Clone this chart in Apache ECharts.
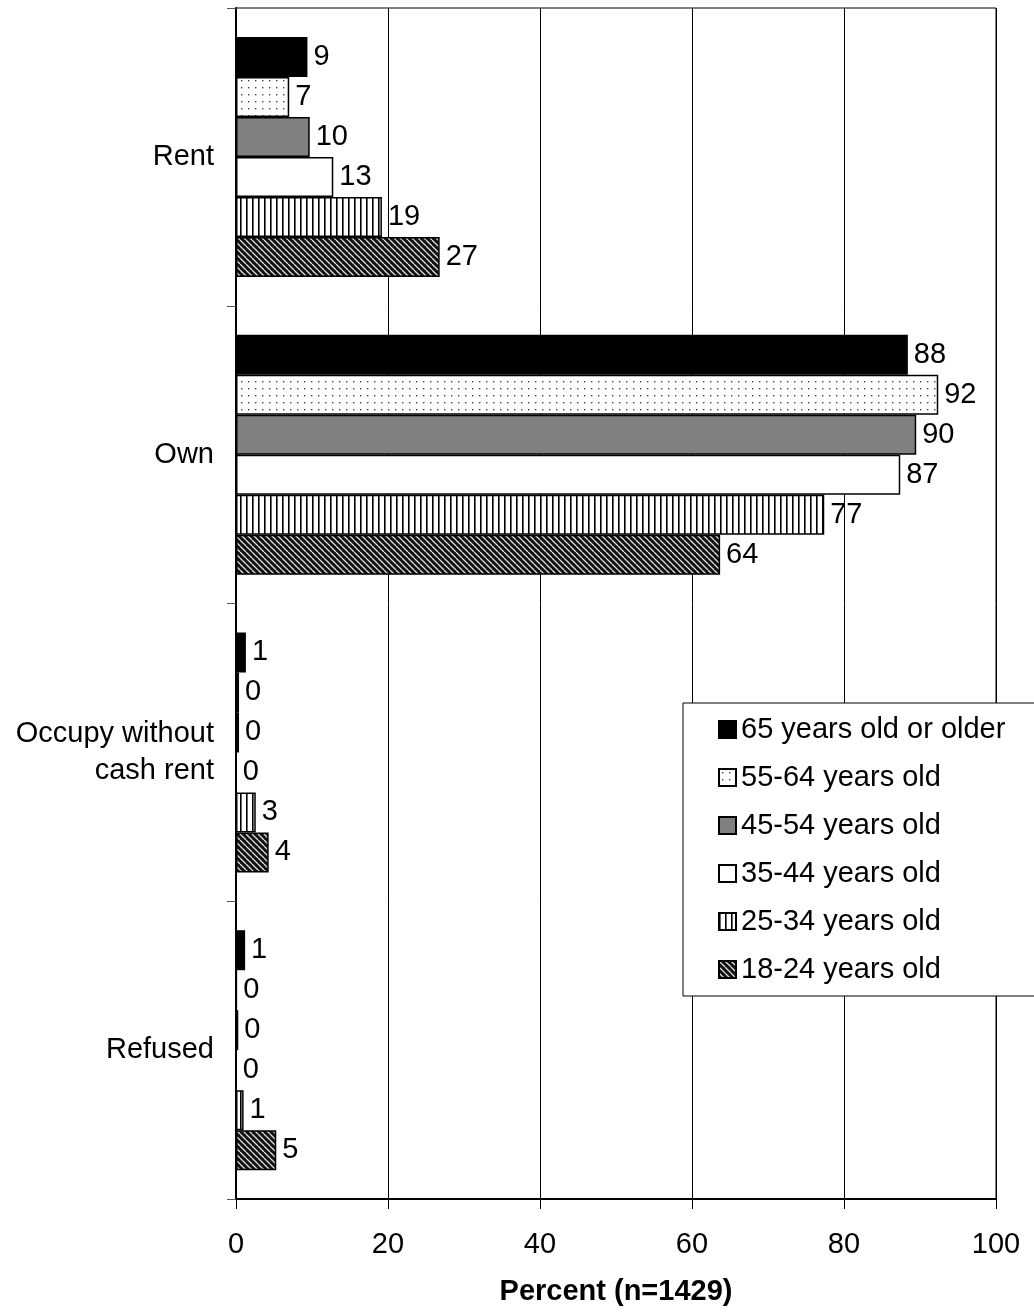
<!DOCTYPE html>
<html>
<head>
<meta charset="utf-8">
<script src="https://cdn.jsdelivr.net/npm/echarts@6/dist/echarts.min.js"></script>
<style>
  html, body { margin: 0; padding: 0; background: #fff; }
  #main { width: 1034px; height: 1312px; }
</style>
</head>
<body>
<div id="main"></div>
<script>
// categories, top to bottom
var categories = ['Rent', 'Own', 'Occupy without\ncash rent', 'Refused'];
var seriesNames = ['65 years old or older', '55-64 years old', '45-54 years old',
  '35-44 years old', '25-34 years old', '18-24 years old'];
// percent values
var age65 = [9.4, 88.4, 1.3, 1.2];
var age55 = [7.0, 92.4, 0.4, 0.1];
var age45 = [9.7, 89.5, 0.4, 0.3];
var age35 = [12.8, 87.4, 0, 0];
var age25 = [19.2, 77.4, 2.6, 1.0];
var age18 = [26.8, 63.7, 4.3, 5.3];
var xTicks = [0, 20, 40, 60, 80, 100];

var FONT = '"Liberation Sans", Arial, sans-serif';
var FS = 29;

// fill patterns
function tile(w, h, draw) {
  var c = document.createElement('canvas');
  c.width = w; c.height = h;
  draw(c.getContext('2d'), w, h);
  return { image: c, repeat: 'repeat' };
}
var dots = tile(7, 7, function (g) {
  g.fillStyle = '#fff'; g.fillRect(0, 0, 7, 7);
  g.fillStyle = '#444'; g.fillRect(3, 3, 1.4, 1.4);
});
var vstripes = tile(6, 6, function (g) {
  g.fillStyle = '#fff'; g.fillRect(0, 0, 6, 6);
  g.fillStyle = '#000'; g.fillRect(0, 0, 1.6, 6);
});
var diag = tile(6, 6, function (g, s) {
  g.fillStyle = '#111'; g.fillRect(0, 0, s, s);
  g.strokeStyle = '#ddd'; g.lineWidth = 1.3;
  [-s, 0, s].forEach(function (c) {
    g.beginPath(); g.moveTo(0, c); g.lineTo(s, s + c); g.stroke();
  });
});

var fills = ['#000', dots, '#808080', '#fff', vstripes, diag];
var values = [age65, age55, age45, age35, age25, age18];

var series = seriesNames.map(function (name, i) {
  return {
    name: name,
    type: 'bar',
    data: values[i],
    barWidth: 40,
    barGap: '0%',
    itemStyle: { color: fills[i], borderColor: '#000', borderWidth: 1.5 },
    label: {
      show: true,
      position: 'right',
      distance: 6,
      color: '#000',
      fontFamily: FONT,
      fontSize: FS,
      formatter: function (p) { return Math.round(p.value); }
    }
  };
});

var chart = echarts.init(document.getElementById('main'));
chart.setOption({
  animation: false,
  backgroundColor: '#fff',
  grid: { left: 236, right: 38, top: 8, bottom: 113, show: true, borderColor: '#000', borderWidth: 1 },
  legend: {
    orient: 'vertical',
    left: 683,
    top: 703,
    data: seriesNames,
    icon: 'rect',
    itemWidth: 17,
    itemHeight: 17,
    itemGap: 19,
    padding: [12, 40, 12, 35],
    borderColor: '#000',
    borderWidth: 1,
    backgroundColor: '#fff',
    itemStyle: { borderColor: '#000', borderWidth: 2 },
    textStyle: { fontFamily: FONT, fontSize: FS, color: '#000', lineHeight: 29 }
  },
  xAxis: {
    type: 'value',
    min: 0,
    max: 100,
    interval: 20,
    name: 'Percent (n=1429)',
    nameLocation: 'middle',
    nameGap: 78,
    nameTextStyle: { fontFamily: FONT, fontSize: FS, fontWeight: 'bold', color: '#000' },
    axisLine: { show: true, lineStyle: { color: '#000', width: 2 } },
    axisTick: { show: true, inside: false, length: 10, lineStyle: { color: '#000' } },
    axisLabel: {
      margin: 31, color: '#000', fontFamily: FONT, fontSize: FS,
      formatter: function (v) { return xTicks.indexOf(v) >= 0 ? v : ''; }
    },
    splitLine: { show: true, lineStyle: { color: '#000', width: 1 } }
  },
  yAxis: {
    type: 'category',
    inverse: true,
    data: categories,
    axisLine: { show: true, lineStyle: { color: '#000', width: 2 } },
    axisTick: { show: true, length: 9, lineStyle: { color: '#555' } },
    axisLabel: { margin: 22, color: '#000', fontFamily: FONT, fontSize: FS, lineHeight: 37, align: 'right' },
    splitLine: { show: false }
  },
  series: series
});
</script>
</body>
</html>
